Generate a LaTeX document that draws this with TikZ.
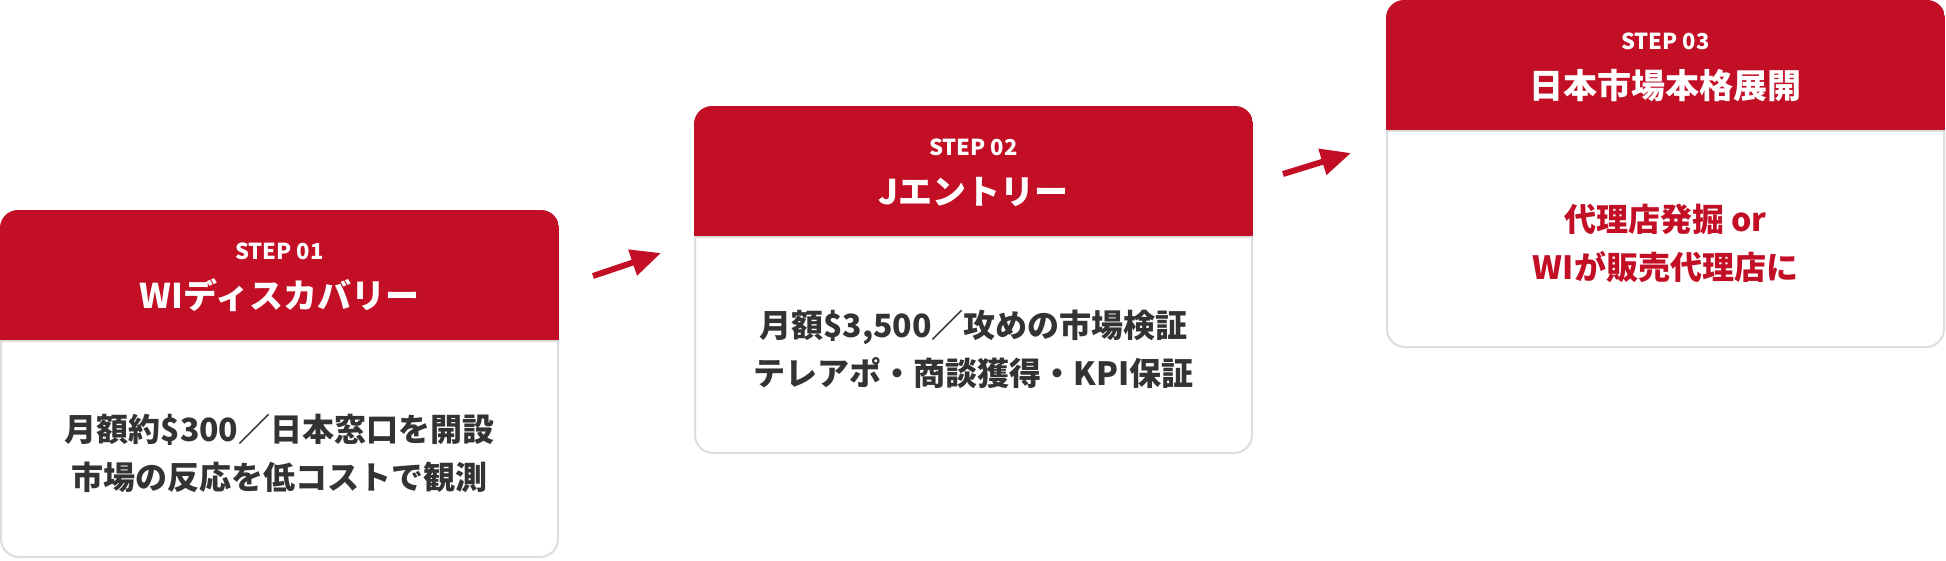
\documentclass[tikz,border=0pt]{standalone}
\usepackage{fontspec}
\newfontfamily\jpfont{Noto Sans CJK JP}
\usetikzlibrary{arrows.meta}
\definecolor{stepred}{HTML}{C20F25}
\definecolor{cardgrey}{HTML}{DDDDDD}
\definecolor{bodygrey}{HTML}{333333}

\begin{document}
\begin{tikzpicture}[x=1pt, y=-1pt,
  card/.style={draw=cardgrey, line width=2pt, fill=white, rounded corners=18pt,
    minimum width=557pt, minimum height=346pt, inner sep=0pt},
  steplabel/.style={text=white, font=\jpfont\bfseries\fontsize{22}{26}\selectfont,
    anchor=base, inner sep=0pt},
  titlelabel/.style={text=white, font=\jpfont\bfseries\fontsize{34}{40}\selectfont,
    anchor=base, inner sep=0pt},
  bodylabel/.style={text=bodygrey, font=\jpfont\bfseries\fontsize{32}{48}\selectfont,
    align=center, inner sep=0pt},
  flow/.style={stepred, line width=6pt, -{Triangle[length=30pt, width=26pt]}}
]
  \useasboundingbox (0,0) rectangle (1946,560);

  % cards
  \node[card] (c1) at (279.5,384) {};
  \node[card] (c2) at (973.5,280) {};
  \node[card] (c3) at (1665.5,174) {};

  % red headers
  \foreach \c in {c1,c2,c3}{
    \begin{scope}
      \clip[rounded corners=18pt] (\c.north west) rectangle (\c.south east);
      \fill[stepred] (\c.north west) rectangle ([yshift=-130pt]\c.north east);
      \draw[cardgrey, line width=2pt] ([yshift=-131pt]\c.north west) -- ([yshift=-131pt]\c.north east);
    \end{scope}
  }

  % step 01
  \node[steplabel] (s1) at ([yshift=-49pt]c1.north) {STEP 01};
  \node[titlelabel] (t1) at ([yshift=-98pt]c1.north) {WIディスカバリー};
  \node[bodylabel] (b1) at ([yshift=-243pt]c1.north) {月額約\$300／日本窓口を開設\\市場の反応を低コストで観測};

  % step 02
  \node[steplabel] (s2) at ([yshift=-49pt]c2.north) {STEP 02};
  \node[titlelabel] (t2) at ([yshift=-98pt]c2.north) {Jエントリー};
  \node[bodylabel] (b2) at ([yshift=-243pt]c2.north) {月額\$3,500／攻めの市場検証\\テレアポ・商談獲得・KPI保証};

  % step 03
  \node[steplabel] (s3) at ([yshift=-49pt]c3.north) {STEP 03};
  \node[titlelabel] (t3) at ([yshift=-98pt]c3.north) {日本市場本格展開};
  \node[bodylabel, text=stepred] (b3) at ([yshift=-243pt]c3.north) {代理店発掘 or\\WIが販売代理店に};

  % arrows
  \coordinate (a1s) at (593,276);
  \coordinate (a1e) at (661,253);
  \coordinate (a2s) at (1283,174);
  \coordinate (a2e) at (1351,153);
  \draw[flow] (a1s) -- (a1e);
  \draw[flow] (a2s) -- (a2e);
\end{tikzpicture}
\end{document}
